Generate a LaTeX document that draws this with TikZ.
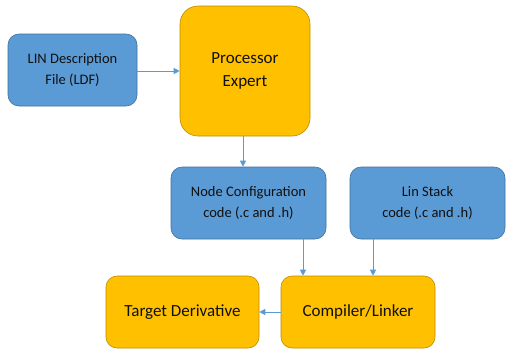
\documentclass[tikz,border=0pt]{standalone}
\usepackage{fontspec}
\setmainfont{Carlito}
\usepackage{xcolor}
\usetikzlibrary{arrows.meta}
\definecolor{linblue}{HTML}{5B9BD5}
\definecolor{linblueedge}{HTML}{41719C}
\definecolor{lingold}{HTML}{FFC000}
\definecolor{lingoldedge}{HTML}{BC8C00}
\definecolor{lintext}{HTML}{101010}

\begin{document}
\begin{tikzpicture}[x=1pt,y=-1pt,
    bluebox/.style={rounded corners=11pt, fill=linblue, draw=linblueedge, line width=0.6pt,
      minimum width=154pt, minimum height=72pt, align=center, text=lintext, font=\fontsize{14.5}{21.5}\selectfont},
    goldbox/.style={rounded corners=11pt, fill=lingold, draw=lingoldedge, line width=0.6pt,
      minimum width=154pt, minimum height=72pt, align=center, text=lintext, font=\fontsize{17}{23}\selectfont},
    flow/.style={draw=linblue, line width=0.9pt, -{Triangle[length=6pt,width=6pt]}}]
    \useasboundingbox (0,0) rectangle (513,357);
    \fill[white] (0,0) rectangle (513,357);
    \node[bluebox, minimum width=129pt] (ldf) at (72.5,70) {LIN Description\\File (LDF)};
    \node[goldbox, rounded corners=18pt, minimum width=130pt, minimum height=130pt] (pe) at (245,71) {Processor\\Expert};
    \node[bluebox, minimum width=155pt] (nodecfg) at (248.5,203) {Node Configuration\\code (.c and .h)};
    \node[bluebox, minimum width=155pt] (linstack) at (427.5,203) {Lin Stack\\code (.c and .h)};
    \node[goldbox, minimum width=153pt] (target) at (182.5,312) {Target Derivative};
    \node[goldbox, minimum width=154pt] (compiler) at (358,312) {Compiler/Linker};
    \draw[flow] (ldf.east |- 0,71) -- (pe.west |- 0,71);
    \draw[flow] (pe.south -| 243,0) -- (nodecfg.north -| 243,0);
    \draw[flow] (nodecfg.south -| 303,0) -- (compiler.north -| 303,0);
    \draw[flow] (linstack.south -| 373,0) -- (compiler.north -| 373,0);
    \draw[flow] (compiler) -- (target);
  \end{tikzpicture}
\end{document}
